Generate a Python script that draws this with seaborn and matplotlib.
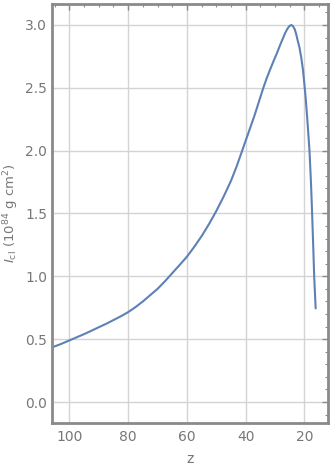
import matplotlib
matplotlib.use("Agg")
import matplotlib.pyplot as plt
import matplotlib.ticker as mticker
import seaborn as sns
import pandas as pd

z_values = [105.9, 103, 100, 97.5, 95, 92.5, 90, 87.5, 85, 82.5, 80, 77.5, 75,
            72.5, 70, 67.5, 65, 62.5, 60, 57.5, 55, 52.5, 50, 47.5, 45, 43, 41.2,
            40, 38.5, 37, 35.5, 34, 32.8, 31.7, 30.4, 29.3, 28.3, 27.4, 26.6,
            25.8, 25.2, 24.5, 23.9, 23.3, 22.8, 22.4, 21.7, 21.1, 20.5, 20, 19.6,
            19.2, 18.8, 18.3, 17.8, 17.4, 17.0, 16.7, 16.2]
I_values = [0.435, 0.46, 0.49, 0.515, 0.54, 0.567, 0.595, 0.622, 0.652, 0.682,
            0.715, 0.755, 0.80, 0.85, 0.90, 0.96, 1.025, 1.09, 1.156, 1.235, 1.32,
            1.415, 1.52, 1.635, 1.76, 1.88, 2.0, 2.08, 2.18, 2.28, 2.39, 2.5, 2.58,
            2.645, 2.72, 2.78, 2.84, 2.89, 2.935, 2.97, 2.99, 3.0, 2.99, 2.965,
            2.925, 2.885, 2.82, 2.74, 2.64, 2.52, 2.42, 2.30, 2.17, 2.0, 1.75,
            1.5, 1.22, 1.0, 0.745]
x_ticks = [100, 80, 60, 40, 20]
y_ticks = [0.0, 0.5, 1.0, 1.5, 2.0, 2.5, 3.0]

df = pd.DataFrame({"z": z_values, "I": I_values})

sns.set_theme(style="white")
plt.rcParams['font.family'] = ['DejaVu Sans']

fig = plt.figure(figsize=(3.32, 4.71), dpi=100)
ax = fig.add_axes([52/332, 48/471, 276/332, 419/471])

sns.lineplot(data=df, x="z", y="I", ax=ax, color="#5E81B5", linewidth=1.5,
             estimator=None, sort=False)

ax.set_xlim(105.9, 12.0)
ax.set_ylim(-0.167, 3.167)
ax.set_xticks(x_ticks)
ax.set_yticks(y_ticks)
ax.xaxis.set_minor_locator(mticker.MultipleLocator(5))
ax.yaxis.set_minor_locator(mticker.MultipleLocator(0.1))
ax.yaxis.set_major_formatter(mticker.FormatStrFormatter('%.1f'))

ax.grid(True, which="major", color="#d4d4d4", linewidth=1.0)
ax.set_axisbelow(True)

for s in ax.spines.values():
    s.set_color("#8a8a8a")
    s.set_linewidth(2.0)
    s.set_visible(True)

ax.tick_params(which="both", direction="in", colors="#8a8a8a", top=True, right=True,
               labelcolor="#777777", labelsize=10)
ax.tick_params(which="major", length=4, width=1.0)
ax.tick_params(which="minor", length=2, width=0.8)
ax.tick_params(axis="x", pad=5)

ax.set_xlabel("z", color="#777777", fontsize=10, labelpad=6)
ax.set_ylabel(r"$I_{\rm cl}$ (10$^{84}$ g cm$^2$)", color="#777777", fontsize=9.5)
ax.yaxis.set_label_coords(-31/276, 0.5)

fig.savefig("out.png", dpi=100)
